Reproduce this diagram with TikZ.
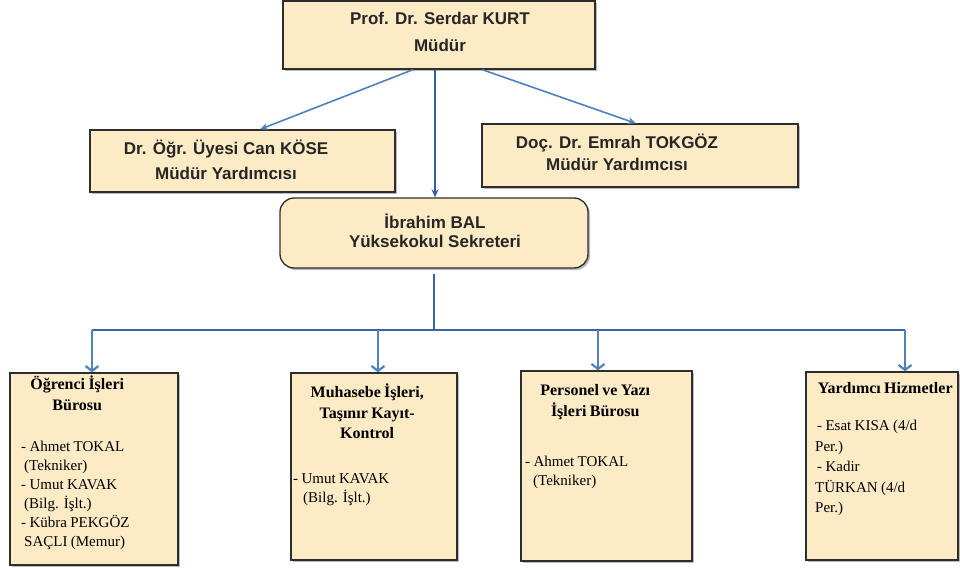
\documentclass[tikz,border=0pt]{standalone}
\usepackage{fontspec}
\setmainfont{Liberation Serif}
\newfontfamily\arialf{Liberation Sans}
\usetikzlibrary{arrows.meta,shadows,calc}
\definecolor{boxfill}{RGB}{253,235,198}
\definecolor{linkblue}{RGB}{79,129,189}
\definecolor{darkblue}{RGB}{52,94,160}
\definecolor{edgecol}{RGB}{45,45,45}
\begin{document}
\begin{tikzpicture}[x=1pt,y=-1pt,
  box/.style={draw=edgecol, line width=1.3pt, fill=boxfill, inner sep=0pt,
    drop shadow={shadow xshift=2pt,shadow yshift=-2pt,opacity=0.45,fill=black!60}},
  sanstext/.style={font=\arialf\bfseries, text=black!85, align=center, inner sep=0pt},
  listtext/.style={inner sep=0pt, anchor=north west, text=black},
  toparrow/.style={draw=linkblue, line width=1.6pt, -{Stealth[length=8pt,width=7pt]}},
  droparrow/.style={draw=linkblue, line width=1.3pt, -{Straight Barb[length=5pt,width=13pt,line width=2.2pt]}},
  busline/.style={draw=darkblue!80!linkblue, line width=2.4pt}
]
\useasboundingbox[fill=white] (0,0) rectangle (960,567);

% boxes
\node[box, minimum width=312pt, minimum height=68pt] (top) at (439,35) {};
\node[box, minimum width=305pt, minimum height=62pt] (vl) at (242.5,161) {};
\node[box, minimum width=316pt, minimum height=63pt] (vr) at (640,155.5) {};
\node[box, rounded corners=14pt, minimum width=308pt, minimum height=70pt] (sek) at (434,233) {};
\node[box, minimum width=168pt, minimum height=192pt] (b1) at (94,469) {};
\node[box, minimum width=166pt, minimum height=187pt] (b2) at (374,466.5) {};
\node[box, minimum width=171pt, minimum height=190pt] (b3) at (606.5,466) {};
\node[box, minimum width=152pt, minimum height=188pt] (b4) at (882,466) {};

% upper texts
\node[sanstext, font=\arialf\bfseries\fontsize{17}{27}\selectfont] (ttop) at (440,31.5) {Prof. Dr. Serdar KURT\\Müdür};
\node[sanstext, font=\arialf\bfseries\fontsize{17}{25}\selectfont] (tvl) at (226,159.5) {Dr. Öğr. Üyesi Can KÖSE\\Müdür Yardımcısı};
\node[sanstext, font=\arialf\bfseries\fontsize{17}{21.5}\selectfont] (tvr) at (617,152.5) {Doç. Dr. Emrah TOKGÖZ\\Müdür Yardımcısı};
\node[sanstext, font=\arialf\bfseries\fontsize{17}{18.5}\selectfont] (tsek) at (435,231) {İbrahim BAL\\Yüksekokul Sekreteri};

% lower texts
\node[listtext, text width=112pt] (t1) at (21,376) {%
{\fontsize{16}{20.5}\selectfont\bfseries\centering Öğrenci İşleri\\Bürosu\par}
\vspace{22pt}
{\fontsize{15}{19}\selectfont\raggedright - Ahmet TOKAL\\\hspace*{3pt}(Tekniker)\\- Umut KAVAK\\\hspace*{3pt}(Bilg. İşlt.)\\- Kübra PEKGÖZ\\\hspace*{3pt}SAÇLI (Memur)\par}};

\node[listtext, text width=148pt] (t2) at (293,384) {%
{\fontsize{16}{20.5}\selectfont\bfseries\centering Muhasebe İşleri,\\Taşınır Kayıt-\\Kontrol\par}
\vspace{26pt}
{\fontsize{15}{19}\selectfont\raggedright - Umut KAVAK\\\hspace*{10pt}(Bilg. İşlt.)\par}};

\node[listtext, text width=140pt] (t3) at (525,384.5) {%
{\fontsize{16}{20.5}\selectfont\bfseries\centering Personel ve Yazı\\İşleri Bürosu\par}
\vspace{31pt}
{\fontsize{15}{19}\selectfont\raggedright - Ahmet TOKAL\\\hspace*{8pt}(Tekniker)\par}};

\node[listtext, text width=140pt] (t4) at (815,382.5) {%
{\fontsize{16}{20.5}\selectfont\bfseries\centering Yardımcı Hizmetler\par}
\vspace{16.5pt}
{\fontsize{15}{20.5}\selectfont\raggedright \hspace*{2pt}- Esat KISA (4/d\\Per.)\\\hspace*{2pt}- Kadir\\TÜRKAN (4/d\\Per.)\par}};

% connectors
\draw[toparrow] ($(top.south west)!0.417!(top.south east)$) -- ($(vl.north west)!0.557!(vl.north east)$);
\draw[toparrow] ($(top.south west)!0.638!(top.south east)$) -- ($(vr.north west)!0.487!(vr.north east)$);
\draw[toparrow, draw=darkblue] ($(top.south)+(-4,0)$) -- ($(sek.north)+(1,0)$);

\coordinate (bus) at (434,330);
\coordinate (d1) at (92,330);
\coordinate (d2) at (378,330);
\coordinate (d3) at (598,330);
\coordinate (d4) at (905,330);
\draw[busline] ($(sek.south)+(0,5)$) -- (bus);
\draw[busline] (d1) -- (d4);
\draw[droparrow] (d1) -- (d1 |- b1.north);
\draw[droparrow] (d2) -- (d2 |- b2.north);
\draw[droparrow] (d3) -- (d3 |- b3.north);
\draw[droparrow] (d4) -- (d4 |- b4.north);
\end{tikzpicture}
\end{document}
